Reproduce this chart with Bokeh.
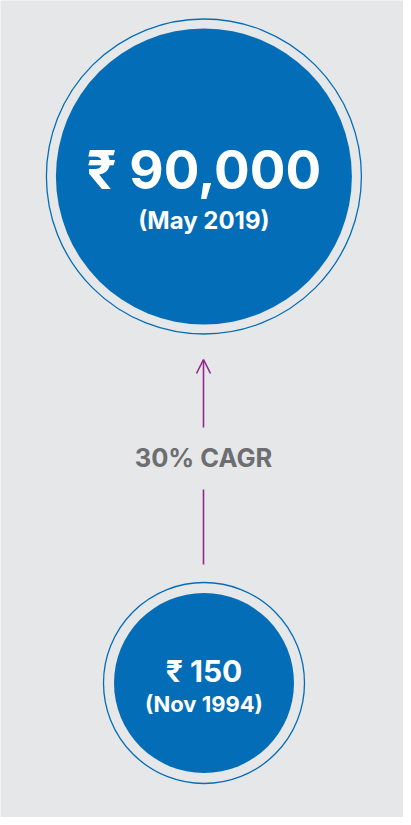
from bokeh.plotting import figure
from bokeh.models import Range1d, Arrow, OpenHead
from bokeh.core.properties import value
from bokeh.embed import file_html
from bokeh.resources import INLINE

# ---- data ----
amounts = ["₹ 90,000", "₹ 150"]
dates = ["(May 2019)", "(Nov 1994)"]
growth_label = "30% CAGR"

# ---- layout (pixel-space coordinates) ----
W, H = 403, 817
BG = "#E6E7E9"
BLUE = "#036EB7"
PURPLE = "#93278F"
GREY = "#6D6E71"
FONT = "Inter"

p = figure(width=W, height=H, output_backend="svg", toolbar_location=None,
           x_range=Range1d(8, 8 + W), y_range=Range1d(8 + H, 8),
           min_border=0, background_fill_color=BG, border_fill_color=BG)
p.axis.visible = False
p.grid.visible = False
p.outline_line_color = None

cx = [211.4, 211.5]
cy = [184, 690.5]
r_in = [148, 90]
r_out = [157.5, 100.5]

p.circle(x=cx, y=cy, radius=r_out, fill_color=None, line_color=BLUE, line_width=1.3)
p.circle(x=cx, y=cy, radius=r_in, fill_color=BLUE, line_color=None)

def label(x, y, txt, size, color="white"):
    p.text(x=[x], y=[y], text=[txt], text_align="center", text_baseline="alphabetic",
           text_color=color, text_font=value(FONT), text_font_style="bold",
           text_font_size=size)

label(cx[0], 177, amounts[0], "53px")
label(cx[0], 228, dates[0], "24px")
label(cx[1], 678, amounts[1], "30px")
label(cx[1], 711, dates[1], "22px")

# growth arrow
ax = 211
p.add_layout(Arrow(end=OpenHead(line_color=PURPLE, line_width=1.6, size=14),
                   x_start=ax, y_start=435, x_end=ax, y_end=367,
                   line_color=PURPLE, line_width=1.6))
p.segment(x0=[ax], y0=[497], x1=[ax], y1=[572], line_color=PURPLE, line_width=1.6)
label(ax, 465, growth_label, "25.5px", GREY)

open("out.html", "w").write(file_html(p, INLINE))
